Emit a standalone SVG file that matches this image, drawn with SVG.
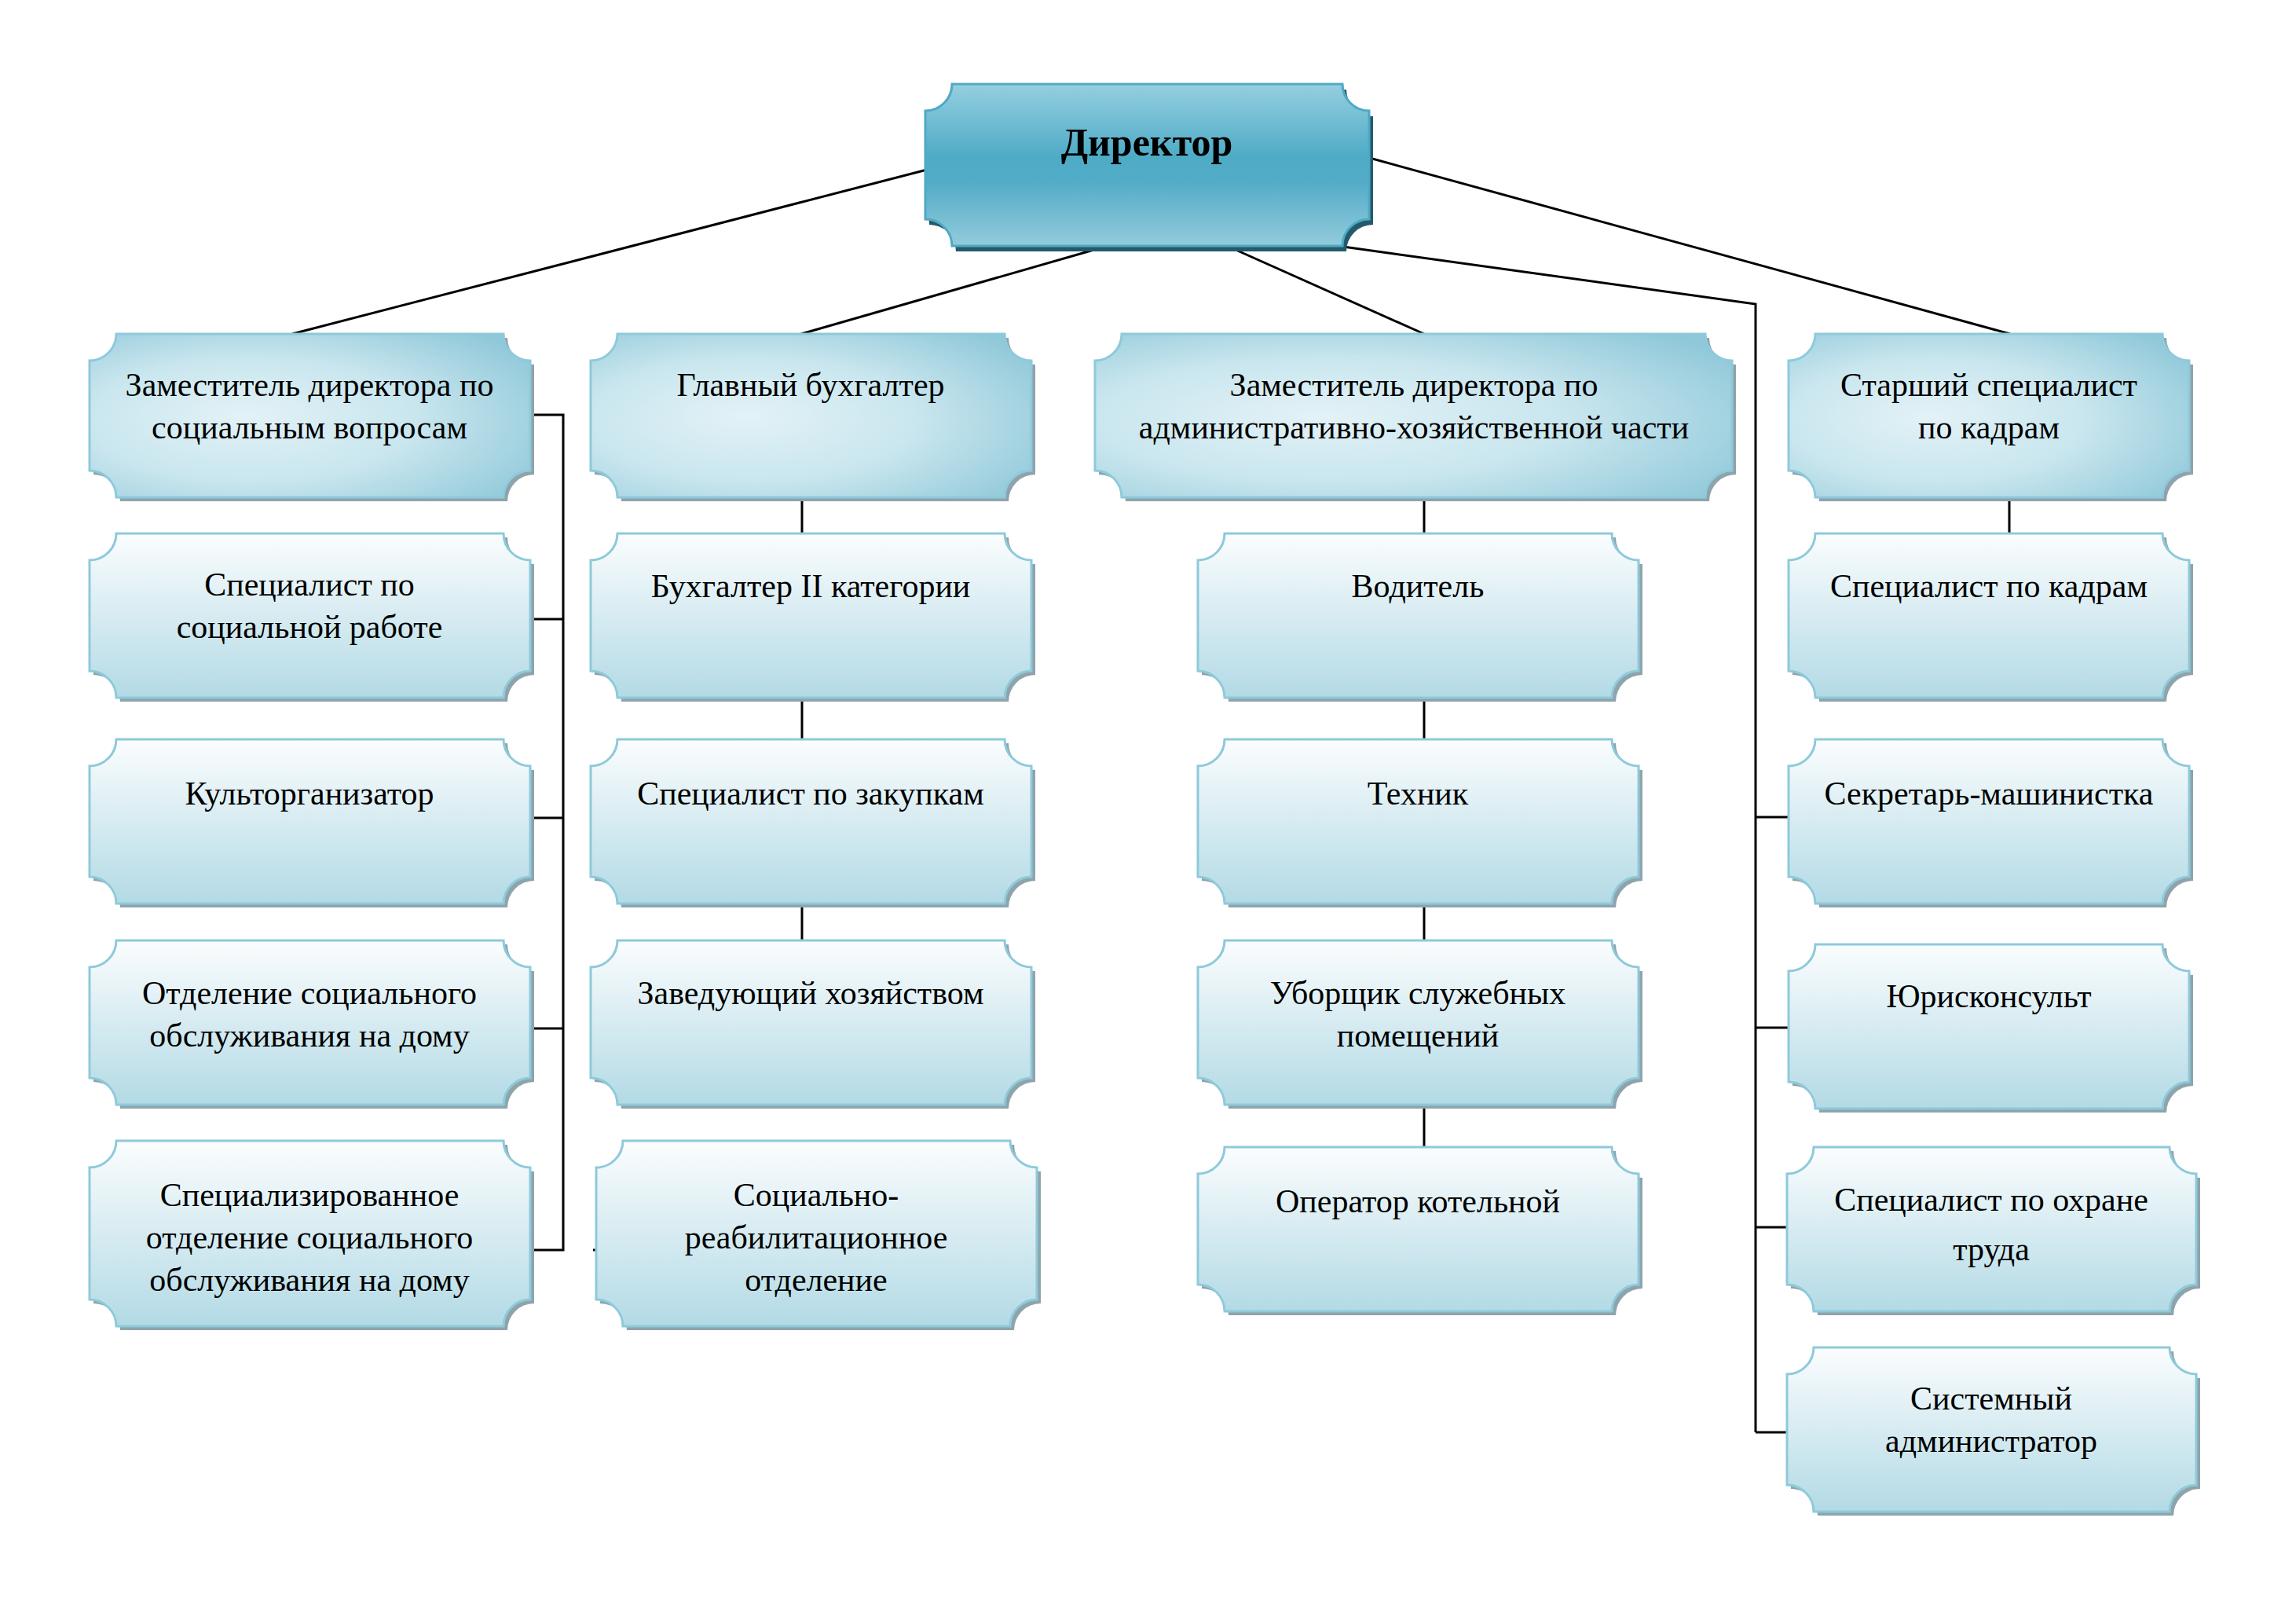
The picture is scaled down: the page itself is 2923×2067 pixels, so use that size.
<svg xmlns="http://www.w3.org/2000/svg" xmlns:xlink="http://www.w3.org/1999/xlink" width="2923" height="2067" viewBox="0 0 2923 2067">
<style>
.box{fill:url(#gBox);stroke:#8dcadb;stroke-width:3}
.head{fill:url(#gHead);stroke:#8dcadb;stroke-width:3}
.dir{fill:url(#gDir);stroke:#4ea9c4;stroke-width:3}
.sh{fill:#8fa3ab}
.dsh{fill:#245a6b}
.t{font-family:"Liberation Serif","Times New Roman",serif;font-size:42px;fill:#000;text-anchor:middle}
.td{font-family:"Liberation Serif","Times New Roman",serif;font-size:50px;font-weight:bold;fill:#000;text-anchor:middle}
.c{stroke:#000;stroke-width:3;fill:none}
</style>
<defs>
<linearGradient id="gDir" x1="0" y1="0" x2="0" y2="1">
<stop offset="0" stop-color="#95cfdf"/>
<stop offset="0.45" stop-color="#4eabc6"/>
<stop offset="0.6" stop-color="#52acc7"/>
<stop offset="1" stop-color="#93cbdb"/>
</linearGradient>
<radialGradient id="gHead" cx="0.38" cy="0.55" r="0.75" fx="0.35" fy="0.5">
<stop offset="0" stop-color="#e3f2f7"/>
<stop offset="0.5" stop-color="#c9e6ee"/>
<stop offset="1" stop-color="#8fc8d9"/>
</radialGradient>
<linearGradient id="gBox" x1="0" y1="0" x2="0" y2="1">
<stop offset="0" stop-color="#fbfdfe"/>
<stop offset="1" stop-color="#b3dae5"/>
</linearGradient>
<path id="sDir" d="M34 0H531A34 34 0 0 0 565 34V172A34 34 0 0 0 531 206H34A34 34 0 0 0 0 172V34A34 34 0 0 0 34 0Z"/>
<path id="s561x208" d="M34 0H527A34 34 0 0 0 561 34V174A34 34 0 0 0 527 208H34A34 34 0 0 0 0 174V34A34 34 0 0 0 34 0Z"/>
<path id="s811x208" d="M34 0H777A34 34 0 0 0 811 34V174A34 34 0 0 0 777 208H34A34 34 0 0 0 0 174V34A34 34 0 0 0 34 0Z"/>
<path id="s510x208" d="M34 0H476A34 34 0 0 0 510 34V174A34 34 0 0 0 476 208H34A34 34 0 0 0 0 174V34A34 34 0 0 0 34 0Z"/>
<path id="s561x209" d="M34 0H527A34 34 0 0 0 561 34V175A34 34 0 0 0 527 209H34A34 34 0 0 0 0 175V34A34 34 0 0 0 34 0Z"/>
<path id="s510x209" d="M34 0H476A34 34 0 0 0 510 34V175A34 34 0 0 0 476 209H34A34 34 0 0 0 0 175V34A34 34 0 0 0 34 0Z"/>
<path id="s561x236" d="M34 0H527A34 34 0 0 0 561 34V202A34 34 0 0 0 527 236H34A34 34 0 0 0 0 202V34A34 34 0 0 0 34 0Z"/>
<path id="s521x209" d="M34 0H487A34 34 0 0 0 521 34V175A34 34 0 0 0 487 209H34A34 34 0 0 0 0 175V34A34 34 0 0 0 34 0Z"/>
</defs>
<rect width="2923" height="2067" fill="#fff"/>
<g id="connectors">
<path class="c" d="M1180 216L372 425"/>
<path class="c" d="M1410 313L1020 425"/>
<path class="c" d="M1562 313L1813 425"/>
<path class="c" d="M1740 200L2559 425"/>
<path class="c" d="M1703 313L2235 387V1823"/>
<path class="c" d="M2235 1040H2277M2235 1308H2277M2235 1562H2275M2235 1823H2275"/>
<path class="c" d="M676 528H717V1591H676M676 788H717M676 1041H717M676 1309H717"/>
<path class="c" d="M755 1591H760"/>
<path class="c" d="M1021 633V679M1021 888V941M1021 1150V1197"/>
<path class="c" d="M1813 633V679M1813 888V941M1813 1150V1197M1813 1407V1460"/>
<path class="c" d="M2558 633V679"/>
</g>
<g id="director" transform="translate(1178,107)">
<use xlink:href="#sDir" class="dsh" x="5" y="7"/>
<use xlink:href="#sDir" class="dir"/>
<text class="td" x="282" y="91">Директор</text>
</g>
<g id="deputy-social" transform="translate(114,425)">
<use xlink:href="#s561x208" class="sh" x="5" y="5"/>
<use xlink:href="#s561x208" class="head"/>
<text class="t" x="280" y="79">Заместитель директора по</text>
<text class="t" x="280" y="133">социальным вопросам</text>
</g>
<g id="chief-accountant" transform="translate(752,425)">
<use xlink:href="#s561x208" class="sh" x="5" y="5"/>
<use xlink:href="#s561x208" class="head"/>
<text class="t" x="280" y="79">Главный бухгалтер</text>
</g>
<g id="deputy-admin" transform="translate(1394,425)">
<use xlink:href="#s811x208" class="sh" x="5" y="5"/>
<use xlink:href="#s811x208" class="head"/>
<text class="t" x="406" y="79">Заместитель директора по</text>
<text class="t" x="406" y="133">административно-хозяйственной части</text>
</g>
<g id="senior-hr" transform="translate(2277,425)">
<use xlink:href="#s510x208" class="sh" x="5" y="5"/>
<use xlink:href="#s510x208" class="head"/>
<text class="t" x="255" y="79">Старший специалист</text>
<text class="t" x="255" y="133">по кадрам</text>
</g>
<g id="social-worker" transform="translate(114,679)">
<use xlink:href="#s561x209" class="sh" x="5" y="5"/>
<use xlink:href="#s561x209" class="box"/>
<text class="t" x="280" y="79">Специалист по</text>
<text class="t" x="280" y="133">социальной работе</text>
</g>
<g id="accountant2" transform="translate(752,679)">
<use xlink:href="#s561x209" class="sh" x="5" y="5"/>
<use xlink:href="#s561x209" class="box"/>
<text class="t" x="280" y="81">Бухгалтер II категории</text>
</g>
<g id="driver" transform="translate(1525,679)">
<use xlink:href="#s561x209" class="sh" x="5" y="5"/>
<use xlink:href="#s561x209" class="box"/>
<text class="t" x="280" y="81">Водитель</text>
</g>
<g id="hr-specialist" transform="translate(2277,679)">
<use xlink:href="#s510x209" class="sh" x="5" y="5"/>
<use xlink:href="#s510x209" class="box"/>
<text class="t" x="255" y="81">Специалист по кадрам</text>
</g>
<g id="culture-organizer" transform="translate(114,941)">
<use xlink:href="#s561x209" class="sh" x="5" y="5"/>
<use xlink:href="#s561x209" class="box"/>
<text class="t" x="280" y="83">Культорганизатор</text>
</g>
<g id="procurement" transform="translate(752,941)">
<use xlink:href="#s561x209" class="sh" x="5" y="5"/>
<use xlink:href="#s561x209" class="box"/>
<text class="t" x="280" y="83">Специалист по закупкам</text>
</g>
<g id="technician" transform="translate(1525,941)">
<use xlink:href="#s561x209" class="sh" x="5" y="5"/>
<use xlink:href="#s561x209" class="box"/>
<text class="t" x="280" y="83">Техник</text>
</g>
<g id="secretary" transform="translate(2277,941)">
<use xlink:href="#s510x209" class="sh" x="5" y="5"/>
<use xlink:href="#s510x209" class="box"/>
<text class="t" x="255" y="83">Секретарь-машинистка</text>
</g>
<g id="home-care" transform="translate(114,1197)">
<use xlink:href="#s561x209" class="sh" x="5" y="5"/>
<use xlink:href="#s561x209" class="box"/>
<text class="t" x="280" y="81">Отделение социального</text>
<text class="t" x="280" y="135">обслуживания на дому</text>
</g>
<g id="housekeeping" transform="translate(752,1197)">
<use xlink:href="#s561x209" class="sh" x="5" y="5"/>
<use xlink:href="#s561x209" class="box"/>
<text class="t" x="280" y="81">Заведующий хозяйством</text>
</g>
<g id="cleaner" transform="translate(1525,1197)">
<use xlink:href="#s561x209" class="sh" x="5" y="5"/>
<use xlink:href="#s561x209" class="box"/>
<text class="t" x="280" y="81">Уборщик служебных</text>
<text class="t" x="280" y="135">помещений</text>
</g>
<g id="legal" transform="translate(2277,1202)">
<use xlink:href="#s510x209" class="sh" x="5" y="5"/>
<use xlink:href="#s510x209" class="box"/>
<text class="t" x="255" y="80">Юрисконсульт</text>
</g>
<g id="special-home-care" transform="translate(114,1452)">
<use xlink:href="#s561x236" class="sh" x="5" y="5"/>
<use xlink:href="#s561x236" class="box"/>
<text class="t" x="280" y="83">Специализированное</text>
<text class="t" x="280" y="137">отделение социального</text>
<text class="t" x="280" y="191">обслуживания на дому</text>
</g>
<g id="rehab" transform="translate(759,1452)">
<use xlink:href="#s561x236" class="sh" x="5" y="5"/>
<use xlink:href="#s561x236" class="box"/>
<text class="t" x="280" y="83">Социально-</text>
<text class="t" x="280" y="137">реабилитационное</text>
<text class="t" x="280" y="191">отделение</text>
</g>
<g id="boiler-operator" transform="translate(1525,1460)">
<use xlink:href="#s561x209" class="sh" x="5" y="5"/>
<use xlink:href="#s561x209" class="box"/>
<text class="t" x="280" y="83">Оператор котельной</text>
</g>
<g id="labor-safety" transform="translate(2275,1460)">
<use xlink:href="#s521x209" class="sh" x="5" y="5"/>
<use xlink:href="#s521x209" class="box"/>
<text class="t" x="260" y="81">Специалист по охране</text>
<text class="t" x="260" y="144">труда</text>
</g>
<g id="sysadmin" transform="translate(2275,1715)">
<use xlink:href="#s521x209" class="sh" x="5" y="5"/>
<use xlink:href="#s521x209" class="box"/>
<text class="t" x="260" y="79">Системный</text>
<text class="t" x="260" y="133">администратор</text>
</g>
</svg>
